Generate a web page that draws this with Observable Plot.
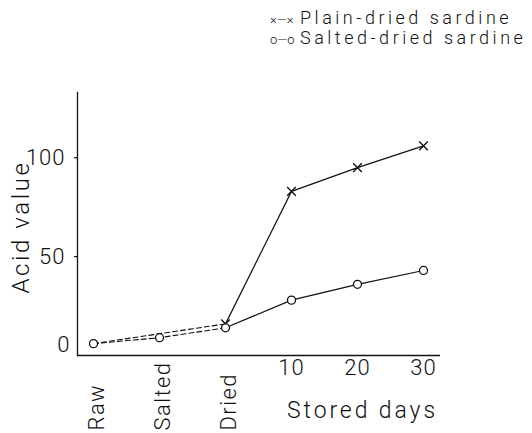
<!DOCTYPE html>
<html>
<head>
<meta charset="utf-8">
<script src="https://cdn.jsdelivr.net/npm/d3@7"></script>
<script src="https://cdn.jsdelivr.net/npm/@observablehq/plot@0.6"></script>
<style>
  body { margin: 0; background: #fff; }
  #wrap { position: relative; width: 532px; height: 433px; font-family: "Roboto", sans-serif; font-weight: 300; }
  #legend { position: absolute; left: 270px; top: 9px; font-size: 18px; line-height: 18px; color: #111; white-space: nowrap; }
  #legend .sym { display: inline-block; width: 30px; font-size: 13px; letter-spacing: 0; }
  #legend .lab { letter-spacing: 3.5px; }
  svg { font-family: "Roboto", sans-serif; font-weight: 300; letter-spacing: 1px; }
</style>
</head>
<body>
<div id="wrap">
  <div id="legend">
    <div><span class="sym">×—×</span><span class="lab">Plain-dried sardine</span></div>
    <div><span class="sym">o—o</span><span class="lab">Salted-dried sardine</span></div>
  </div>
</div>
<script>
const stages = ["Raw", "Salted", "Dried", "10", "20", "30"];
const preStages = ["Raw", "Salted", "Dried"];
const dayStages = ["10", "20", "30"];
const plainStages = ["Raw", "Dried", "10", "20", "30"];
const plainValues = [6, 16, 83, 95, 106];
const saltedStages = ["Raw", "Salted", "Dried", "10", "20", "30"];
const saltedValues = [6, 9, 14, 28, 36, 43];
const yTicks = [0, 50, 100];
const yLabel = "Acid value";
const xLabel = "Stored days";

const plain = plainStages.map((s, i) => ({stage: s, value: plainValues[i]}));
const salted = saltedStages.map((s, i) => ({stage: s, value: saltedValues[i]}));
const isPre = d => preStages.includes(d.stage);
const isStored = d => d.stage === "Dried" || dayStages.includes(d.stage);

const fs = 22;
const chart = Plot.plot({
  width: 532,
  height: 433,
  marginLeft: 77,
  marginRight: 92,
  marginTop: 92,
  marginBottom: 78,
  style: {background: "white", color: "#111", fontSize: fs + "px"},
  x: {type: "point", domain: stages, range: [91, 424], padding: 0, axis: null},
  y: {domain: [0, 133], axis: null},
  marks: [
    Plot.ruleY([0], {stroke: "#111", strokeWidth: 1.3}),
    Plot.frame({anchor: "left", stroke: "#111", strokeWidth: 1.3}),
    Plot.axisY({ticks: yTicks.filter(t => t > 0), tickSize: 3, tickPadding: 9, label: null, fontSize: fs, strokeWidth: 1.2}),
    Plot.axisY({ticks: [0], tickSize: 0, tickPadding: 7, label: null, fontSize: fs, dy: -11}),
    Plot.text([yLabel], {frameAnchor: "left", textAnchor: "middle", lineAnchor: "middle", rotate: -90, dx: -56, dy: 3, fontSize: 24, fill: "#111"}),
    Plot.axisX({ticks: dayStages, tickSize: 0, tickPadding: 4, label: null, fontSize: fs, tickFormat: d => d}),
    Plot.text(preStages, {x: d => d, frameAnchor: "bottom", rotate: -90, textAnchor: "start", lineAnchor: "middle", dy: 75, dx: 3, fontSize: fs, fill: "#111"}),
    Plot.text([xLabel], {x: () => "20", frameAnchor: "bottom", textAnchor: "middle", lineAnchor: "middle", dy: 55, dx: 5, fontSize: fs + 1, fill: "#111"}),
    Plot.line(plain.filter(isPre), {x: "stage", y: "value", stroke: "#111", strokeWidth: 1.1, strokeDasharray: "5,3"}),
    Plot.line(salted.filter(isPre), {x: "stage", y: "value", stroke: "#111", strokeWidth: 1.1, strokeDasharray: "5,3"}),
    Plot.line(plain.filter(isStored), {x: "stage", y: "value", stroke: "#111", strokeWidth: 1.2}),
    Plot.line(salted.filter(isStored), {x: "stage", y: "value", stroke: "#111", strokeWidth: 1.2}),
    Plot.dot(plain.filter(d => d.stage !== "Raw"), {x: "stage", y: "value", symbol: "times", r: 4, stroke: "#111", strokeWidth: 1.4}),
    Plot.dot(salted, {x: "stage", y: "value", symbol: "circle", r: 4, stroke: "#111", fill: "white", strokeWidth: 1.3})
  ]
});
chart.querySelectorAll("text").forEach(t => {
  if (t.textContent === yLabel) t.style.letterSpacing = "2.6px";
  else if (t.textContent === xLabel) t.style.letterSpacing = "2.9px";
  else if (preStages.includes(t.textContent)) t.style.letterSpacing = "1.4px";
});
document.getElementById("wrap").prepend(chart);
chart.style.position = "absolute";
chart.style.left = "0";
chart.style.top = "0";
</script>
</body>
</html>
